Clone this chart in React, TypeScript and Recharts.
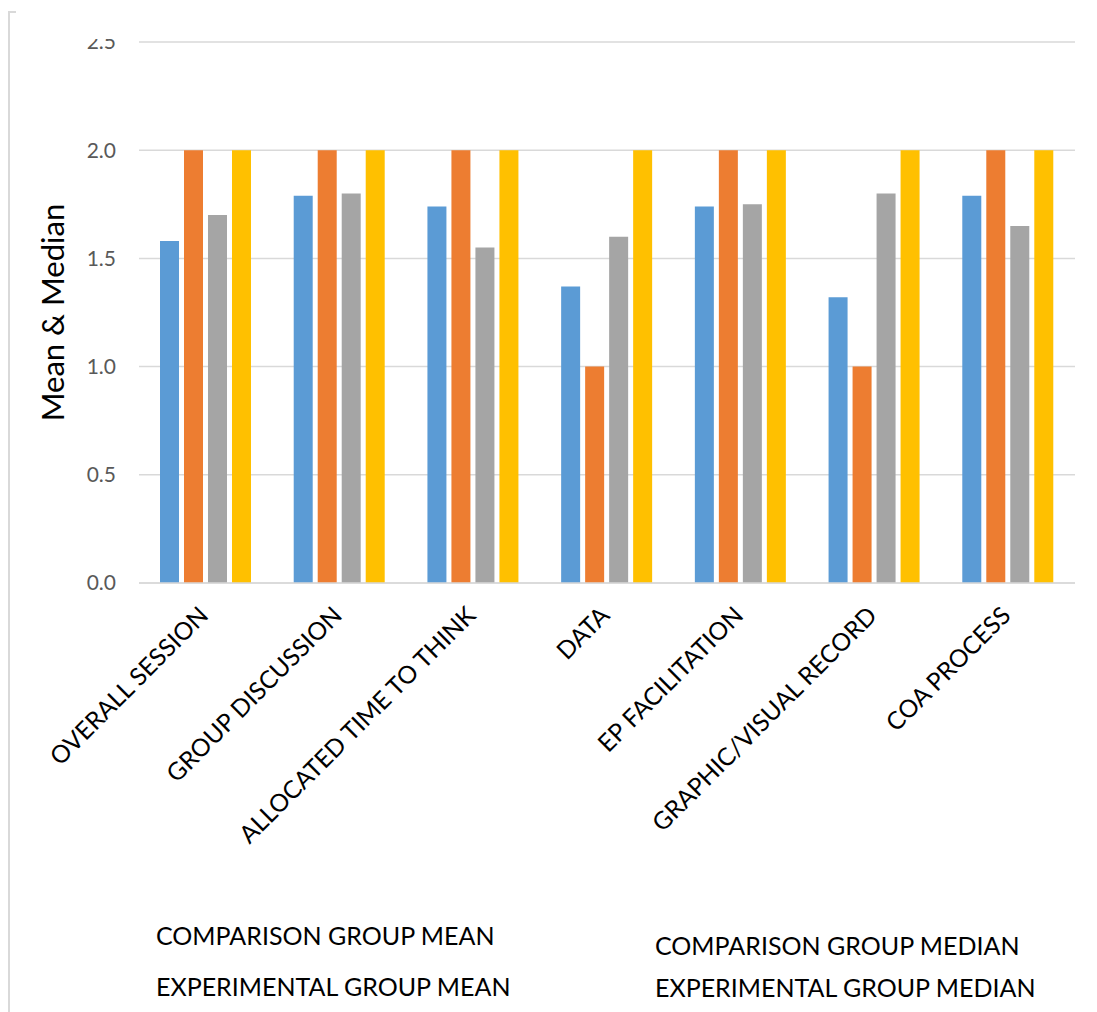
import React from "react"
import { BarChart, Bar, XAxis, YAxis, CartesianGrid, Legend } from "recharts"

const categories = [
  "OVERALL SESSION",
  "GROUP DISCUSSION",
  "ALLOCATED TIME TO THINK",
  "DATA",
  "EP FACILITATION",
  "GRAPHIC/VISUAL RECORD",
  "COA PROCESS",
]
const comparisonMean = [1.58, 1.79, 1.74, 1.37, 1.74, 1.32, 1.79]
const comparisonMedian = [2, 2, 2, 1, 2, 1, 2]
const experimentalMean = [1.7, 1.8, 1.55, 1.6, 1.75, 1.8, 1.65]
const experimentalMedian = [2, 2, 2, 2, 2, 2, 2]
const yTicks = [0, 0.5, 1, 1.5, 2, 2.5]

const data = categories.map((name, i) => ({
  name,
  compMean: comparisonMean[i],
  compMedian: comparisonMedian[i],
  expMean: experimentalMean[i],
  expMedian: experimentalMedian[i],
}))

const FONT = "Lato, 'Liberation Sans', sans-serif"

const XTick = (props: any) => {
  const { x, y, payload } = props
  return (
    <g transform={`translate(${x + 4},${y + 26})`}>
      <text transform="rotate(-45)" textAnchor="end" fontSize={24.5} fill="#000" fontFamily={FONT}>
        {payload.value}
      </text>
    </g>
  )
}

// the top label is cut off by the frame in the original, so clip it
const YTick = (props: any) => {
  const { x, y, payload } = props
  return (
    <g>
      <defs>
        <clipPath id="ytick-clip">
          <rect x={0} y={39} width={140} height={1000} />
        </clipPath>
      </defs>
      <text
        x={x}
        y={y}
        dy="0.355em"
        textAnchor="end"
        fontSize={21}
        fill="#595959"
        fontFamily={FONT}
        clipPath="url(#ytick-clip)"
      >
        {Number(payload.value).toFixed(1)}
      </text>
    </g>
  )
}

const LegendText = () => (
  <div style={{ position: "relative", height: 130, fontFamily: FONT, fontSize: 25, color: "#000", whiteSpace: "nowrap" }}>
    <div style={{ position: "absolute", left: 156, top: 38 }}>COMPARISON GROUP MEAN</div>
    <div style={{ position: "absolute", left: 156, top: 89 }}>EXPERIMENTAL GROUP MEAN</div>
    <div style={{ position: "absolute", left: 655, top: 48 }}>COMPARISON GROUP MEDIAN</div>
    <div style={{ position: "absolute", left: 655, top: 90 }}>EXPERIMENTAL GROUP MEDIAN</div>
  </div>
)

export default function App() {
  return (
    <div style={{ position: "absolute", left: 0, top: 0, width: 1097, height: 1012, background: "#fff", overflow: "hidden" }}>
      <div
        style={{
          position: "absolute",
          left: 8,
          top: 11,
          width: 6,
          height: 1001,
          borderLeft: "2px solid #d9d9d9",
          borderTop: "2px solid #d9d9d9",
        }}
      />
      <BarChart
        width={1097}
        height={1012}
        data={data}
        margin={{ top: 42, right: 22, left: 0, bottom: 0 }}
        barGap={5}
        barCategoryGap={21}
      >
        <CartesianGrid vertical={false} stroke="#d9d9d9" strokeWidth={1.5} />
        <XAxis
          dataKey="name"
          interval={0}
          height={299}
          tickLine={false}
          axisLine={{ stroke: "#d9d9d9", strokeWidth: 1.5 }}
          tick={<XTick />}
        />
        <YAxis
          width={139}
          domain={[0, 2.5]}
          ticks={yTicks}
          axisLine={false}
          tickLine={false}
          tickMargin={17}
          tick={<YTick />}
          label={{
            value: "Mean & Median",
            angle: -90,
            position: "insideLeft",
            offset: 53,
            style: { fontSize: 31, fill: "#000", fontFamily: FONT, textAnchor: "middle" },
          }}
        />
        <Legend verticalAlign="bottom" content={<LegendText />} wrapperStyle={{ height: 130 }} />
        <Bar dataKey="compMean" name="COMPARISON GROUP MEAN" fill="#5b9bd5" isAnimationActive={false} />
        <Bar dataKey="compMedian" name="COMPARISON GROUP MEDIAN" fill="#ed7d31" isAnimationActive={false} />
        <Bar dataKey="expMean" name="EXPERIMENTAL GROUP MEAN" fill="#a5a5a5" isAnimationActive={false} />
        <Bar dataKey="expMedian" name="EXPERIMENTAL GROUP MEDIAN" fill="#ffc000" isAnimationActive={false} />
      </BarChart>
    </div>
  )
}
